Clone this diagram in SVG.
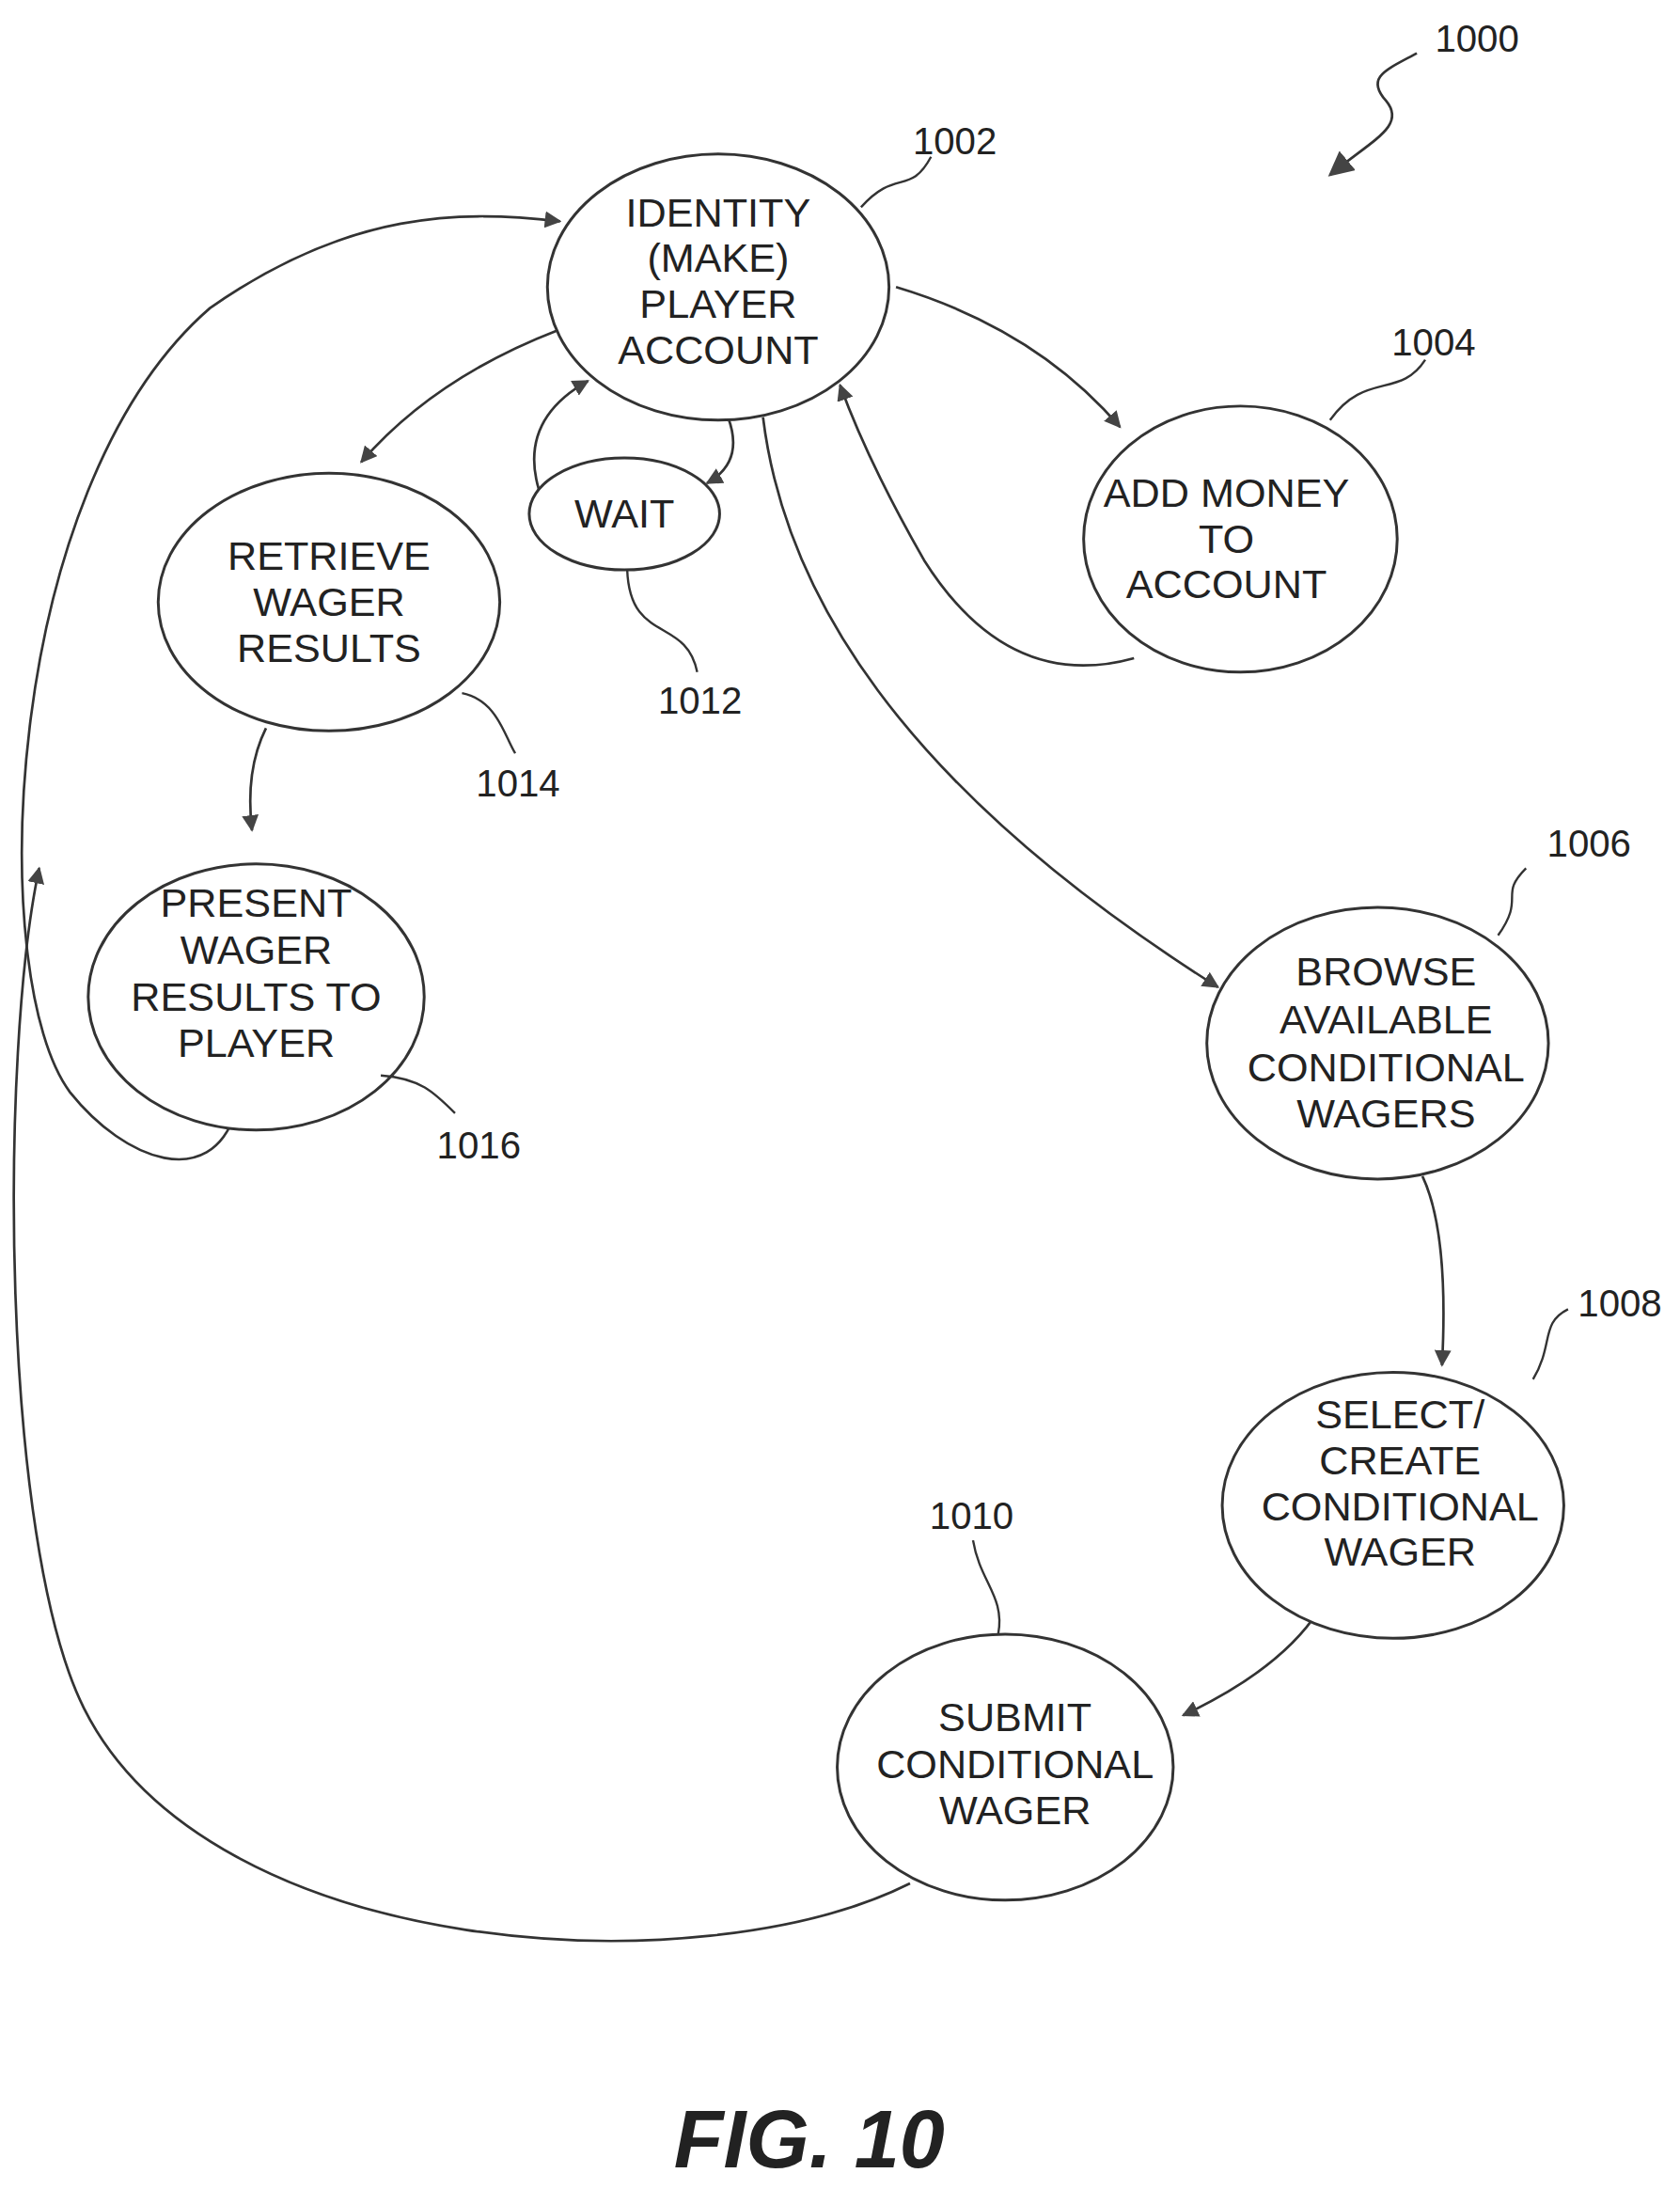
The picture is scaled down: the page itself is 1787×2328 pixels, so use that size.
<svg xmlns="http://www.w3.org/2000/svg" width="1787" height="2328" viewBox="0 0 1787 2328">
<defs>
<style>
.n{fill:#fff;stroke:#333;stroke-width:2}
.t{font-family:"Liberation Sans",Arial,sans-serif;font-size:29px;fill:#222;text-anchor:middle}
.r{font-family:"Liberation Sans",Arial,sans-serif;font-size:27px;fill:#222;text-anchor:middle}
.c{fill:none;stroke:#333;stroke-width:1.8}
.l{fill:none;stroke:#333;stroke-width:1.6}
</style>
<marker id="a" viewBox="0 0 10 10" refX="9" refY="5" markerWidth="12" markerHeight="12" markerUnits="userSpaceOnUse" orient="auto"><path d="M0,0L10,5L0,10z" fill="#444"/></marker>
<marker id="b" viewBox="0 0 10 10" refX="9" refY="5" markerWidth="18" markerHeight="18" markerUnits="userSpaceOnUse" orient="auto"><path d="M0,0L10,5L0,10z" fill="#444"/></marker>
</defs>
<rect width="1787" height="2328" fill="#fff"/>
<g transform="scale(1.4892)">
<g id="connectors">
<path class="c" marker-end="url(#a)" d="M640,205 Q740,235 800,305"/>
<path class="c" marker-end="url(#a)" d="M810,470 Q720,495 660,400 Q620,330 600,275"/>
<path class="c" marker-end="url(#a)" d="M398,236 Q310,270 258,330"/>
<path class="c" marker-end="url(#a)" d="M520,298 Q532,330 505,345"/>
<path class="c" marker-end="url(#a)" d="M385,350 Q370,300 420,272"/>
<path class="c" marker-end="url(#a)" d="M190,520 Q175,550 180,593"/>
<path class="c" marker-end="url(#a)" d="M168,795 C150,850 90,830 50,780 C-10,700 0,350 150,220 C250,150 330,150 400,158"/>
<path class="c" marker-end="url(#a)" d="M650,1345 C500,1420 150,1400 60,1220 C0,1100 0,750 28,620"/>
<path class="c" marker-end="url(#a)" d="M545,298 C560,420 640,560 870,705"/>
<path class="c" marker-end="url(#a)" d="M1016,840 Q1035,880 1030,975"/>
<path class="c" marker-end="url(#a)" d="M942,1150 Q915,1192 845,1225"/>
<path class="c" marker-end="url(#b)" d="M1012,38 C990,50 975,55 990,72 C1005,90 980,100 950,125"/>
</g>
<g id="n1002"><ellipse class="n" cx="513" cy="205" rx="122" ry="95"/>
<text class="t" x="513" y="162">IDENTITY</text><text class="t" x="513" y="194">(MAKE)</text><text class="t" x="513" y="227">PLAYER</text><text class="t" x="513" y="260">ACCOUNT</text>
<path class="l" d="M615,148 C640,120 650,140 665,112"/><text class="r" x="682" y="110">1002</text></g>
<g id="n1004"><ellipse class="n" cx="886" cy="385" rx="112" ry="95"/>
<text class="t" x="876" y="362">ADD MONEY</text><text class="t" x="876" y="395">TO</text><text class="t" x="876" y="427">ACCOUNT</text>
<path class="l" d="M950,300 C975,265 1000,285 1018,257"/><text class="r" x="1024" y="254">1004</text></g>
<g id="n1012"><ellipse class="n" cx="446" cy="367" rx="68" ry="40"/>
<text class="t" x="446" y="377">WAIT</text>
<path class="l" d="M448,407 C450,460 490,440 498,480"/><text class="r" x="500" y="510">1012</text></g>
<g id="n1014"><ellipse class="n" cx="235" cy="430" rx="122" ry="92"/>
<text class="t" x="235" y="407">RETRIEVE</text><text class="t" x="235" y="440">WAGER</text><text class="t" x="235" y="473">RESULTS</text>
<path class="l" d="M330,495 C355,500 360,525 368,538"/><text class="r" x="370" y="569">1014</text></g>
<g id="n1016"><ellipse class="n" cx="183" cy="712" rx="120" ry="95"/>
<text class="t" x="183" y="655">PRESENT</text><text class="t" x="183" y="688">WAGER</text><text class="t" x="183" y="722">RESULTS TO</text><text class="t" x="183" y="755">PLAYER</text>
<path class="l" d="M272,768 C300,770 310,780 325,795"/><text class="r" x="342" y="827">1016</text></g>
<g id="n1006"><ellipse class="n" cx="984" cy="745" rx="122" ry="97"/>
<text class="t" x="990" y="704">BROWSE</text><text class="t" x="990" y="738">AVAILABLE</text><text class="t" x="990" y="772">CONDITIONAL</text><text class="t" x="990" y="805">WAGERS</text>
<path class="l" d="M1070,668 C1090,640 1070,640 1090,620"/><text class="r" x="1135" y="612">1006</text></g>
<g id="n1008"><ellipse class="n" cx="995" cy="1075" rx="122" ry="95"/>
<text class="t" x="1000" y="1020">SELECT/</text><text class="t" x="1000" y="1053">CREATE</text><text class="t" x="1000" y="1086">CONDITIONAL</text><text class="t" x="1000" y="1118">WAGER</text>
<path class="l" d="M1095,985 C1110,960 1100,945 1120,935"/><text class="r" x="1157" y="940">1008</text></g>
<g id="n1010"><ellipse class="n" cx="718" cy="1262" rx="120" ry="95"/>
<text class="t" x="725" y="1236">SUBMIT</text><text class="t" x="725" y="1270">CONDITIONAL</text><text class="t" x="725" y="1303">WAGER</text>
<path class="l" d="M713,1167 C718,1140 700,1130 695,1100"/><text class="r" x="694" y="1092">1010</text></g>
<text class="r" x="1055" y="37">1000</text>
<text x="578" y="1548" font-family="Liberation Sans,Arial,sans-serif" font-size="58" font-weight="bold" font-style="italic" text-anchor="middle" fill="#222">FIG. 10</text>
</g>
</svg>
